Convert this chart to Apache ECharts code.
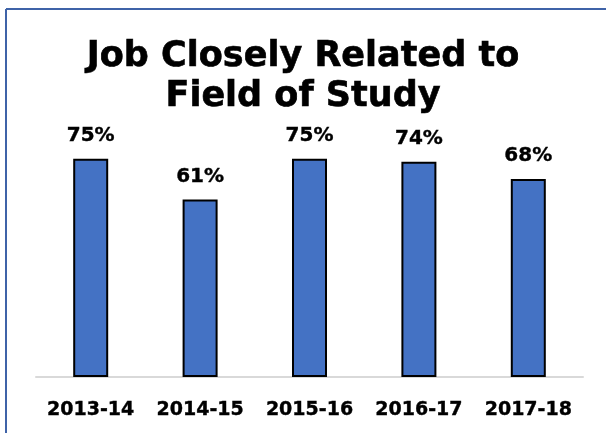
<!DOCTYPE html>
<html>
<head>
<meta charset="utf-8">
<script src="https://cdn.jsdelivr.net/npm/echarts@6/dist/echarts.min.js"></script>
<style>
  html, body { margin: 0; padding: 0; background: #fff; }
  #chart { width: 606px; height: 433px; }
</style>
</head>
<body>
<div id="chart"></div>
<script>
// data
const years = ['2013-14', '2014-15', '2015-16', '2016-17', '2017-18']
const percents = [75, 61, 75, 74, 68]
const titleText = 'Job Closely Related to\nField of Study'

const chart = echarts.init(document.getElementById('chart'))

const option = {
  backgroundColor: '#fff',
  animation: false,
  title: {
    text: titleText,
    left: 'center',
    top: 32,
    textStyle: {
      fontFamily: 'DejaVu Sans',
      fontWeight: 'bold',
      fontSize: 35,
      lineHeight: 40,
      color: '#000',
      textBorderColor: '#000',
      textBorderWidth: 0.6
    }
  },
  // frame around the slide (top and left edges only visible)
  graphic: [
    { type: 'line', shape: { x1: 6, y1: 9, x2: 606, y2: 9 }, style: { stroke: '#3f63a8', lineWidth: 2 } },
    { type: 'line', shape: { x1: 6, y1: 9, x2: 6, y2: 433 }, style: { stroke: '#3f63a8', lineWidth: 2 } }
  ],
  grid: {
    left: 36,
    right: 23,
    top: 86,
    bottom: 56
  },
  xAxis: {
    type: 'category',
    data: years,
    axisTick: { show: false },
    axisLine: { lineStyle: { color: '#d9d9d9', width: 2 } },
    axisLabel: {
      interval: 0,
      hideOverlap: false,
      margin: 24,
      fontFamily: 'DejaVu Sans',
      fontWeight: 'bold',
      fontSize: 19,
      color: '#000',
      textBorderColor: '#000',
      textBorderWidth: 0.4
    }
  },
  yAxis: {
    type: 'value',
    min: 0,
    max: 100,
    show: false
  },
  series: [{
    type: 'bar',
    data: percents,
    barWidth: 35,
    itemStyle: {
      color: '#4472c4',
      borderColor: '#000',
      borderWidth: 2
    },
    label: {
      show: true,
      position: 'top',
      distance: 13,
      formatter: '{c}%',
      fontFamily: 'DejaVu Sans',
      fontWeight: 'bold',
      fontSize: 20,
      color: '#000',
      textBorderColor: '#000',
      textBorderWidth: 0.4
    }
  }]
}

chart.setOption(option)
</script>
</body>
</html>
